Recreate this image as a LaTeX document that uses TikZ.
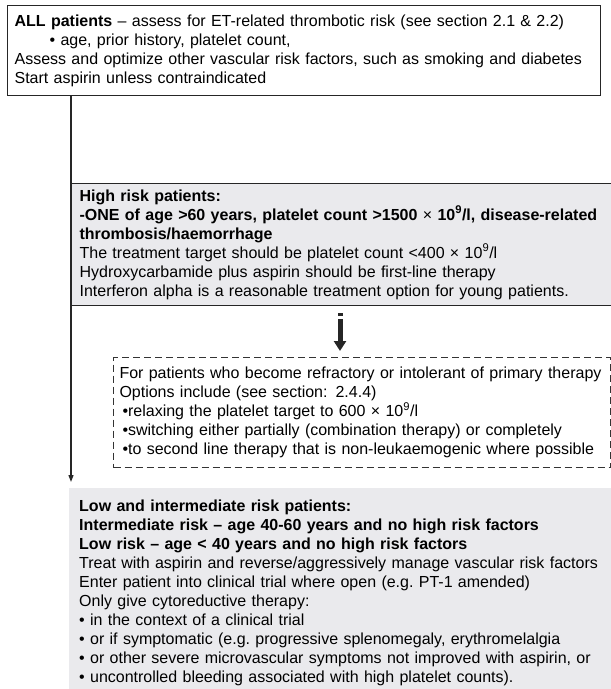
\documentclass[tikz,border=0pt]{standalone}
\usepackage{fontspec}
\setmainfont{Liberation Sans}
\usetikzlibrary{arrows.meta}
\definecolor{boxgray}{RGB}{234,234,237}
\tikzset{
  txt/.style={align=left, font=\fontsize{16}{19}\selectfont, anchor=north west},
  frame/.style={txt, draw=black!85, line width=1.2pt},
}

\begin{document}
\begin{tikzpicture}[x=1pt,y=-1pt]
   \useasboundingbox (0,0) rectangle (611,689);
   \coordinate (mid) at (340,0);
   \node[frame, minimum width=593pt, minimum height=90pt, text width=579pt, inner xsep=7pt] (allbox) at (7,5)
     {\textbf{ALL patients} – assess for ET-related thrombotic risk (see section 2.1 \& 2.2)\\
      \hspace*{35pt}• age, prior history, platelet count,\\
      Assess and optimize other vascular risk factors, such as smoking and diabetes\\
      Start aspirin unless contraindicated};
   \node[frame, fill=boxgray, minimum width=546pt, minimum height=122pt, text width=530pt, inner xsep=8pt] (hibox) at (71,183)
     {\textbf{High risk patients:}\\
      \textbf{-ONE of age >60 years, platelet count >1500 {\mdseries ×} 10\textsuperscript{9}/l, disease-related}\\
      \textbf{thrombosis/haemorrhage}\\
      The treatment target should be platelet count <400 × 10\textsuperscript{9}/l\\
      Hydroxycarbamide plus aspirin should be first-line therapy\\
      Interferon alpha is a reasonable treatment option for young patients.};
   \node[txt, draw=black!80, line width=1pt, dash pattern=on 7pt off 4pt, fill=white, minimum width=497pt, minimum height=110pt, text width=485pt, inner xsep=6pt] (optbox) at (113,357)
     {For patients who become refractory or intolerant of primary therapy\\
      Options include (see section: 2.4.4)\\
      \hspace*{3pt}•relaxing the platelet target to 600 × 10\textsuperscript{9}/l\\
      \hspace*{3pt}•switching either partially (combination therapy) or completely\\
      \hspace*{3pt}•to second line therapy that is non-leukaemogenic where possible};
   \node[txt, fill=boxgray, minimum width=548pt, minimum height=210pt, text width=532pt, inner xsep=10pt] (lobox) at (69,488)
     {\textbf{Low and intermediate risk patients:}\\
      \textbf{Intermediate risk – age 40-60 years and no high risk factors}\\
      \textbf{Low risk – age < 40 years and no high risk factors}\\
      Treat with aspirin and reverse/aggressively manage vascular risk factors\\
      Enter patient into clinical trial where open (e.g.\ PT-1 amended)\\
      Only give cytoreductive therapy:\\
      • in the context of a clinical trial\\
      • or if symptomatic (e.g.\ progressive splenomegaly, erythromelalgia\\
      • or other severe microvascular symptoms not improved with aspirin, or\\
      • uncontrolled bleeding associated with high platelet counts).};
   % trunk line down to the low risk box
   \draw[black!85, line width=1.2pt, -{Triangle[length=7pt,width=5pt]}] (allbox.south -| hibox.west) -- ([yshift=6pt]lobox.north -| hibox.west);
   % thick arrow to the second line box
   \draw[black!85, line width=5pt] ([yshift=-7pt]hibox.south -| mid) -- ([yshift=-10pt]hibox.south -| mid);
   \draw[black!85, line width=5pt, -{Triangle[length=10pt,width=12pt]}] ([yshift=-13pt]hibox.south -| mid) -- ([yshift=6pt]optbox.north -| mid);
 \end{tikzpicture}
\end{document}
